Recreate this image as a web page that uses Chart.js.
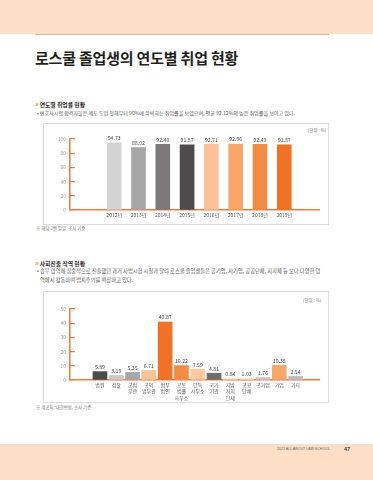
<!DOCTYPE html>
<html><head><meta charset="utf-8">
<script src="https://cdn.jsdelivr.net/npm/chart.js@4.4.1/dist/chart.umd.min.js"></script>
<style>
html,body{margin:0;padding:0}
body{width:373px;height:480px;position:relative;background:#fff;overflow:hidden;font-family:"Noto Sans CJK KR","Noto Sans",sans-serif;color:#333}
.band{position:absolute;left:0;width:373px;background:#fddfc7}
.rule{position:absolute;left:35px;width:294px;top:34px;height:1px;background:#c9b6a8}
.abs{position:absolute;white-space:nowrap}
.title{left:35px;top:47px;font-size:15px;font-weight:700;color:#231f20;letter-spacing:-0.2px}
.head{font-size:5.8px;font-weight:700;color:#231f20}
.head b{color:#f17127;font-weight:700;margin-right:1px;font-size:7px}
.txt{font-size:5.05px;color:#555}
.txt2{font-size:5.25px;color:#555}
.box{position:absolute;left:43px;width:284px;border:1px solid #dcdcdc;box-shadow:0 0 1px #e8e8e8}
.unit{font-size:4.4px;color:#777}
.note{font-size:4.4px;color:#777}
canvas{position:absolute}
</style></head>
<body>
<div class="band" style="top:0;height:34px"></div>
<div class="rule"></div>
<div class="abs title">로스쿨 졸업생의 연도별 취업 현황</div>

<div class="abs head" style="left:35px;top:99px"><b>»</b>연도별 취업률 현황</div>
<div class="abs txt" style="left:37px;top:109px">• 변호사시험 합격자들은 제도 도입 첫해부터 90%에 육박하는 취업률을 보였으며, 평균 92.12%의 높은 취업률을 보이고 있다.</div>
<div class="box" style="top:123px;height:100px"></div>
<div class="abs unit" style="left:308px;top:127px">(단위 : %)</div>
<canvas id="c1" width="285" height="100" style="left:43px;top:124px;width:285px;height:100px"></canvas>
<div class="abs note" style="left:36px;top:225px">※ 해당 2월 말일, 조사 기준</div>

<div class="abs head" style="left:35px;top:258px"><b>»</b>사회진출 직역 현황</div>
<div class="abs txt2" style="left:37px;top:267px">• 송무 영역에 집중적으로 진출했던 과거 사법시험 시절과 달리 로스쿨 졸업생들은 공기업, 사기업, 공공단체, 지자체 등 보다 다양한 영</div>
<div class="abs txt2" style="left:40px;top:276px">역에서 활동하며 법치주의를 확장하고 있다.</div>
<div class="box" style="top:291px;height:110px"></div>
<div class="abs unit" style="left:303px;top:297px">(단위 : %)</div>
<canvas id="c2" width="285" height="105" style="left:43px;top:297px;width:285px;height:105px"></canvas>
<div class="abs note" style="left:36px;top:404px">※ 제공처: 대한변협, 조사 기준</div>

<div class="band" style="top:444px;height:36px"></div>
<div class="abs" style="left:277px;top:447px;font-size:3.6px;color:#666;font-family:'Liberation Sans',sans-serif">2022 ALL ABOUT LAW SCHOOL</div>
<div class="abs" style="left:344px;top:446px;font-size:5.5px;font-weight:700;color:#444;font-family:'Liberation Sans',sans-serif">47</div>

<script>
// ---- data ----
const years = ['2012년','2013년','2014년','2015년','2016년','2017년','2018년','2019년'];
const rates = [94.73, 88.02, 92.40, 91.87, 92.71, 92.96, 92.40, 91.87];
const rateTicks = [0, 20, 40, 60, 80, 100];

const fields = [['법원'],['검찰'],['군법','무관'],['공익','법무관'],['법무','법인'],['공동','법률','사무소'],['단독','사무소'],['국가','기관'],['지방','자치','단체'],['공공','단체'],['공기업'],['기업'],['기타']];
const shares = [5.89, 3.19, 5.35, 6.71, 40.87, 10.22, 7.59, 4.81, 0.84, 1.03, 1.76, 10.38, 2.54];
const shareTicks = [0, 10, 20, 30, 40, 50];

// ---- styles ----
const ORANGE = '#f07a3a';
const yearColors = ['#d3d3d3','#a8a7a7','#7b7979','#4d4b4b','#fcc196','#f7a66a','#f58c46','#f17127'];
const fieldColors = ['#4d4b4b','#c9c9c9','#a8a7a7','#fcc196','#f17127','#f58c46','#fcc9a4','#6e6c6c','#fcd6b9','#f9dcc8','#c9c9c9','#f7a66a','#bdbdbd'];
const FONT = '"Noto Sans CJK KR","Noto Sans",sans-serif';

const valueLabels = {
  id:'valueLabels',
  afterDatasetsDraw(chart){
    const ctx = chart.ctx;
    const ds = chart.data.datasets[0];
    const meta = chart.getDatasetMeta(0);
    ctx.save();
    ctx.font = '5.2px ' + FONT;
    ctx.fillStyle = '#444';
    ctx.textAlign = 'center';
    ctx.textBaseline = 'bottom';
    meta.data.forEach((el,i)=>{
      ctx.fillText(ds.data[i].y.toFixed(2), el.x, el.y - 2);
    });
    ctx.restore();
  }
};

function makeChart(id, labels, values, colors, ticks, yMax, xMin, xMax, pad, xHeight){
  return new Chart(document.getElementById(id), {
    type:'bar',
    data:{datasets:[{
      data: values.map((v,i)=>({x:i, y:v})),
      backgroundColor: colors,
      barThickness: 14,
      borderWidth: 0
    }]},
    options:{
      responsive:false, animation:false, devicePixelRatio:1,
      layout:{padding:pad},
      plugins:{legend:{display:false}, tooltip:{enabled:false}},
      scales:{
        x:{
          type:'linear', min:xMin, max:xMax,
          afterBuildTicks:s=>{ s.ticks = labels.map((_,i)=>({value:i})); },
          ticks:{callback:v=>labels[v], font:{size:5, family:FONT, lineHeight:1.25}, color:'#555', padding:2, autoSkip:false, maxRotation:0, minRotation:0},
          grid:{display:false, drawTicks:false, tickLength:0},
          border:{color:ORANGE, width:1.5},
          afterFit:s=>{ s.height = xHeight; }
        },
        y:{
          min:0, max:yMax,
          afterBuildTicks:s=>{ s.ticks = ticks.map(v=>({value:v})); },
          ticks:{font:{size:5, family:FONT}, color:'#999', padding:9},
          grid:{drawOnChartArea:false, tickLength:-5, color:ORANGE, lineWidth:1.2},
          border:{color:ORANGE, width:1.5},
          afterFit:s=>{ s.width = 27; }
        }
      }
    },
    plugins:[valueLabels]
  });
}

makeChart('c1', years, rates, yearColors, rateTicks, 100, -1.18, 7.79, {left:0,right:9,top:15,bottom:0}, 14);
makeChart('c2', fields, shares, fieldColors, shareTicks, 50, -1.25, 12.85, {left:0,right:9,top:9,bottom:0}, 22);
</script>
</body></html>
